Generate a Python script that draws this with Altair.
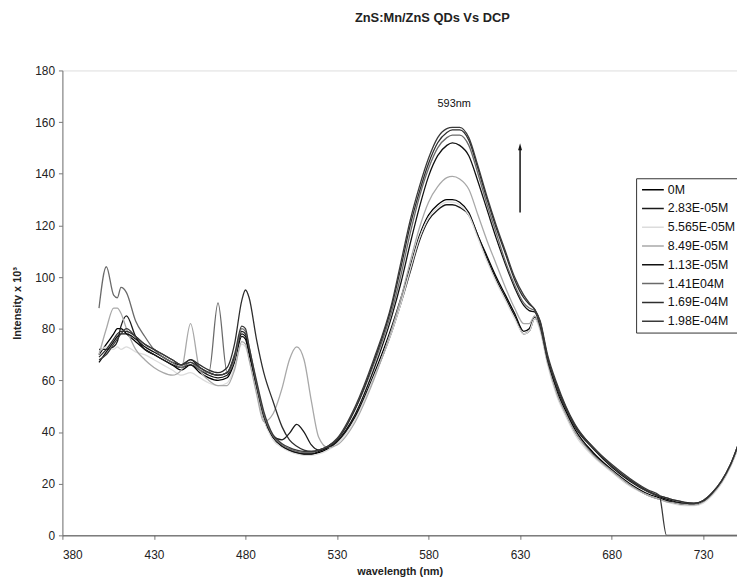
import altair as alt
import pandas as pd

wl = [400, 404, 408, 410, 412, 415, 420, 425, 430, 435,
      440, 445, 450, 455, 460, 465, 470, 474, 478, 480,
      482, 486, 490, 495, 500, 504, 508, 512, 516, 520,
      525, 530, 540, 550, 560, 565, 570, 575, 580, 585,
      590, 593, 597, 602, 607, 612, 617, 622, 627, 632,
      635, 638, 641, 645, 650, 655, 660, 670, 680, 690,
      700, 706, 710, 715, 720, 725, 730, 735, 740, 745, 752]

s_0M = [70, 74, 78, 80, 80, 78, 75, 72, 70, 68,
        66, 64, 66, 63, 61, 60, 61, 67, 77, 76,
        70, 57, 45, 38, 34.5, 33, 32, 31.5, 31.5, 32,
        33.5, 36, 46, 62, 81, 92, 104, 116, 124, 128,
        130, 130, 129, 125, 116, 108, 100, 93, 86, 79,
        80, 84.5, 80, 68, 56, 48, 41, 32, 25.5, 20,
        16, 14.5, 13.5, 12.5, 12, 11.8, 13, 16, 20.5, 27, 40]

s_283 = [72, 72, 73, 75, 81, 85, 77, 72, 70, 68,
         66, 65, 66, 64, 62, 61, 62, 68, 79, 78,
         72, 58, 46, 38.5, 37, 39.5, 43, 40, 35, 33,
         34, 36, 46, 61, 79, 90, 102, 114, 122, 126,
         128, 128, 127, 124, 116, 107, 99, 92, 85, 78,
         79, 84, 80, 67, 55, 47, 40, 31.5, 25, 19.5,
         15.5, 14, 13.3, 12.5, 12, 11.8, 13, 16, 20.5, 27, 40]

s_5565 = [71, 73, 72, 73, 72, 73, 71, 70, 68, 66,
          64, 62, 63, 61, 59, 58, 59, 65, 74, 73,
          68, 56, 45, 37, 34, 32.5, 31.5, 31, 31, 31.5,
          33, 35.5, 45, 61, 79, 90, 103, 115, 123, 127,
          129, 129, 128, 124, 115, 106, 98, 91, 84, 78,
          79, 84, 79, 66, 54, 46, 39, 30.5, 24.5, 19,
          15.5, 14, 13, 12, 11.5, 11.5, 12.5, 15.5, 20, 26.5, 39]

s_849 = [70, 80, 88, 88, 86, 80, 72, 68, 65, 63,
         62, 64, 82, 64, 60, 58, 58, 64, 75, 74,
         68, 55, 44, 47, 57, 68, 73, 68, 52, 38,
         34, 35, 44, 60, 80, 92, 106, 119, 129, 135,
         138.5, 139, 138, 134, 124, 114, 105, 96, 88, 82,
         82, 85, 80, 67, 55, 47, 40, 31, 25, 19.5,
         15.5, 14, 13, 12.5, 12, 11.8, 13, 16, 20.5, 27, 40]

s_113 = [67, 71, 75, 77, 78, 78, 76, 73, 71, 69,
         67, 66, 68, 65, 63, 62, 63, 69, 78, 77,
         71, 58, 46, 38, 34.5, 33, 32, 31.5, 31.5, 32.5,
         34, 36.5, 47, 64, 85, 98, 113, 127, 139, 147,
         151, 152, 151, 147, 137, 126, 115, 105, 96, 89,
         87, 86.5, 81, 68, 57, 49, 42, 33.5, 26.5, 21,
         16.8, 15, 14, 13, 12.5, 12.3, 13.3, 16.5, 21, 27.5, 41]

s_141 = [88, 104, 93, 92, 96, 94, 83, 77, 72, 69,
         67, 65, 67, 64, 63, 90, 63, 68, 80, 79,
         73, 59, 47, 38.5, 35, 33.5, 32.5, 32, 32, 33,
         34.5, 37, 49, 66, 87, 101, 117, 131, 142, 150,
         154, 155, 155, 151, 140, 128, 117, 106, 97, 90,
         88, 87, 82, 69, 58, 49.5, 42.5, 34, 27, 21.5,
         17, 15.3, 14.5, 13.5, 12.8, 12.5, 13.5, 16.5, 21, 27.5, 41]

s_169 = [69, 72, 76, 78, 79, 79, 77, 74, 72, 70,
         68, 66, 68, 66, 64, 63, 65, 74, 91, 95,
         92, 76, 63, 52, 42, 37, 34.5, 33, 32.5, 33,
         34.5, 37, 49, 67, 89, 104, 120, 133, 144, 152,
         156, 157, 157, 153, 142, 130, 119, 109, 99, 92,
         89.5, 87.5, 82.5, 69, 58, 49.5, 42.5, 34, 27, 21.5,
         17, 15.3, 14.5, 13.5, 12.8, 12.5, 13.5, 16.5, 21, 27.5, 41]

s_198 = [68, 70, 74, 76, 78, 80, 77, 74, 72, 70,
         68, 66, 67, 65, 63, 62, 63, 70, 81, 80,
         73, 60, 48, 39, 35.5, 34, 33, 32.5, 32.5, 33,
         34.5, 37.5, 50, 68, 90, 106, 122, 135, 146, 154,
         157.5, 158, 158, 154, 143, 131, 120, 110, 100, 93,
         90, 87.5, 83, 70, 59, 50, 43, 34, 27.5, 22,
         17.5, 15.5, 0, 0, 0, 0, 0, 0, 0, 0, 0]

names = ["0M", "2.83E-05M", "5.565E-05M", "8.49E-05M",
         "1.13E-05M", "1.41E04M", "1.69E-04M", "1.98E-04M"]
colors = ["#000000", "#1a1a1a", "#dcdcdc", "#a8a8a8",
          "#111111", "#6a6a6a", "#2e2e2e", "#3a3a3a"]
series = [s_0M, s_283, s_5565, s_849, s_113, s_141, s_169, s_198]

x_ticks = [380, 430, 480, 530, 580, 630, 680, 730]
y_ticks = [0, 20, 40, 60, 80, 100, 120, 140, 160, 180]

peak_label = ["593nm"]
peak_x = [594]
peak_y = [167]
arrow_x = [630]
arrow_y0 = [125]
arrow_y1 = [150]

rows = []
for name, vals in zip(names, series):
    for w, v in zip(wl, vals):
        rows.append({"wavelength": w, "intensity": v, "series": name})
df = pd.DataFrame(rows)

FONT = "Liberation Sans"
xscale = alt.Scale(domain=[380, 748.5], nice=False, zero=False)
yscale = alt.Scale(domain=[0, 180], nice=False)

lines = alt.Chart(df).mark_line(strokeWidth=1.3, interpolate="monotone", clip=True).encode(
    x=alt.X("wavelength:Q", scale=xscale,
            axis=alt.Axis(values=x_ticks, title="wavelength (nm)", grid=False,
                          labelFontSize=12, labelFont=FONT, labelColor="#222",
                          labelPadding=10, tickSize=4, tickColor="#777",
                          domainColor="#444", titleFont=FONT, titleFontSize=11,
                          titleFontWeight="bold", titleColor="#222",
                          titleY=37, titleBaseline="middle")),
    y=alt.Y("intensity:Q", scale=yscale,
            axis=alt.Axis(values=y_ticks, title="Intensity x 10³", grid=False,
                          labelFontSize=12, labelFont=FONT, labelColor="#222",
                          labelPadding=4, tickSize=4, tickColor="#777",
                          domainColor="#777", titleFont=FONT, titleFontSize=11,
                          titleFontWeight="bold", titleColor="#222",
                          titleX=-45, titleY=235, titleAngle=270,
                          titleAlign="center", titleBaseline="middle")),
    color=alt.Color("series:N", sort=names,
                    scale=alt.Scale(domain=names, range=colors),
                    legend=alt.Legend(title=None, orient="none", legendX=580, legendY=109,
                                      symbolType="stroke", symbolSize=484,
                                      symbolStrokeWidth=1.5, clipHeight=13,
                                      labelFontSize=12.5, labelFont=FONT, labelColor="#111",
                                      labelOffset=3, rowPadding=6, padding=5,
                                      strokeColor="#333", fillColor="white")),
)

ann = pd.DataFrame({"label": peak_label, "x": peak_x, "y": peak_y})
text = alt.Chart(ann).mark_text(font=FONT, fontSize=11, color="#111").encode(
    x=alt.X("x:Q", scale=xscale), y=alt.Y("y:Q", scale=yscale), text="label:N")

arr = pd.DataFrame({"x": arrow_x, "y0": arrow_y0, "y1": arrow_y1})
shaft = alt.Chart(arr).mark_rule(color="#111", strokeWidth=1.5).encode(
    x=alt.X("x:Q", scale=xscale), y=alt.Y("y0:Q", scale=yscale), y2="y1:Q")
head = alt.Chart(arr).mark_point(shape="M 0 -1.2 L 0.5 0.6 L -0.5 0.6 Z", filled=True,
                                 size=64, color="#111", opacity=1).encode(
    x=alt.X("x:Q", scale=xscale), y=alt.Y("y1:Q", scale=yscale))

chart = alt.layer(lines, text, shaft, head).properties(
    width=682, height=470,
    padding={"left": 55, "top": 60, "right": 0, "bottom": 42},
    autosize=alt.AutoSizeParams(type="none"),
    title=alt.TitleParams("ZnS:Mn/ZnS QDs Vs DCP", font=FONT, fontSize=13,
                          fontWeight="bold", color="#222", anchor="middle",
                          dx=33, offset=40),
).configure_view(stroke=None).configure(background="white")

chart.save("out.html", embed_options={"renderer": "svg", "actions": False})
